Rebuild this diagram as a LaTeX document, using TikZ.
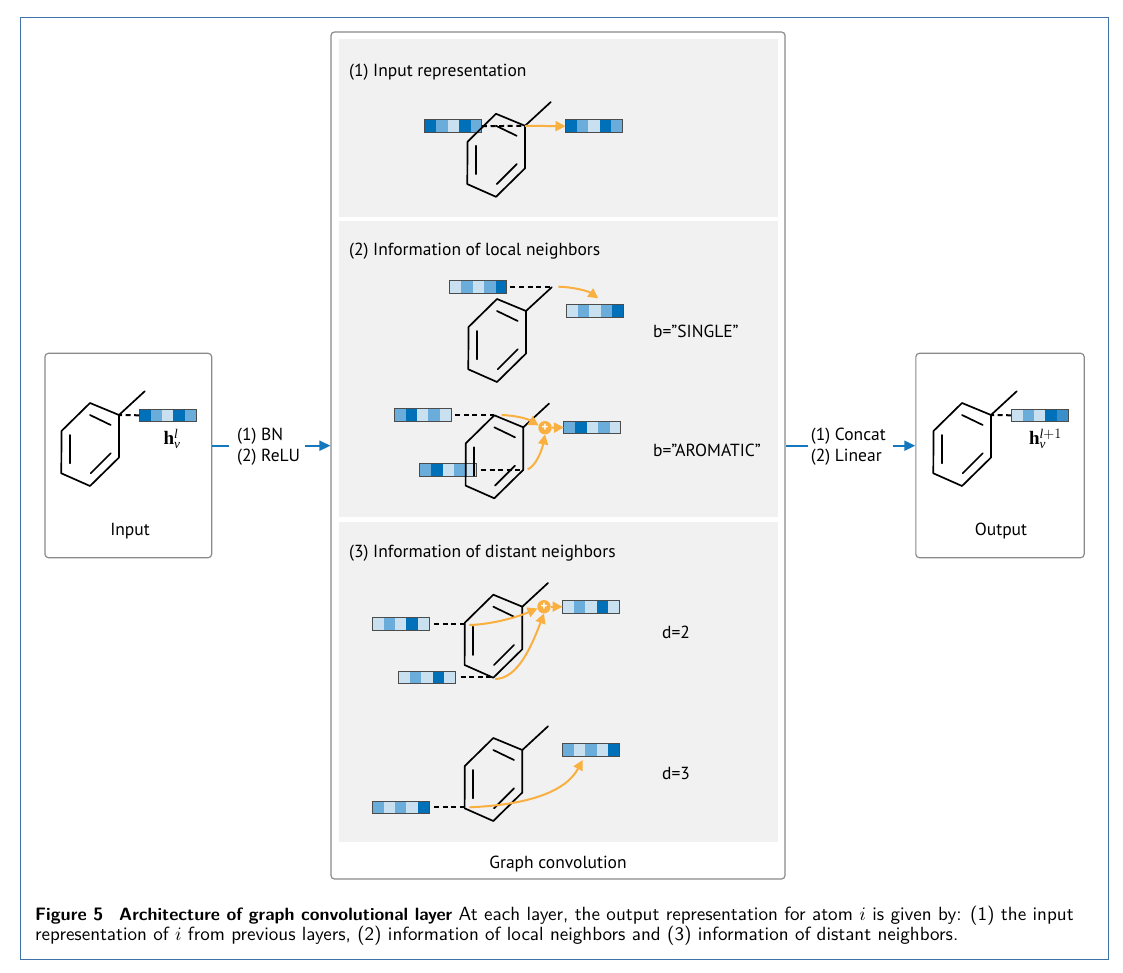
\documentclass[tikz,border=0pt]{standalone}
\usepackage{amsmath}
\usepackage{graphicx}
\usepackage{fontspec}
\setmainfont{PT Sans}
\newfontfamily\hfam{Liberation Serif}
\usetikzlibrary{arrows.meta,calc}
\definecolor{vd}{HTML}{0070B8}
\definecolor{vm}{HTML}{6AADDA}
\definecolor{vl}{HTML}{C8E0F0}
\definecolor{vx}{HTML}{3A8FCB}
\definecolor{panelgray}{HTML}{F1F1F1}
\definecolor{framegray}{HTML}{8A8A8A}
\definecolor{frameblue}{HTML}{3F73A8}
\definecolor{flowblue}{HTML}{1478BE}
\definecolor{flow}{HTML}{F9B040}
\tikzset{
  vecbar/.style={draw=black!70,line width=0.9pt,minimum width=57pt,minimum height=12.6pt,inner sep=0pt,outer sep=0pt},
  dashline/.style={line width=2pt,dash pattern=on 5pt off 3.6pt},
  bondline/.style={line width=1.7pt,black,line join=round,line cap=round},
  flowline/.style={line width=2pt,flow,-{Triangle[length=10pt,width=10pt]}},
  mainflow/.style={line width=2pt,flowblue},
  boxframe/.style={draw=framegray,line width=1.2pt,rounded corners=3.5pt,fill=white,inner sep=0pt},
  panel/.style={fill=panelgray,draw=none,inner sep=0pt},
  lab/.style={font=\fontsize{17.5pt}{21pt}\selectfont,inner sep=0pt,anchor=west,text=black},
  labc/.style={font=\fontsize{17.5pt}{21pt}\selectfont,inner sep=0pt,text=black},
  sumnode/.style={circle,fill=flow,minimum size=13.4pt,inner sep=0pt,outer sep=0pt,text=white,font=\bfseries\fontsize{13pt}{13pt}\selectfont},
  capline/.style={font=\sffamily\fontsize{10pt}{12pt}\selectfont,inner sep=0pt,anchor=west,text=black},
  hlabel/.style={inner sep=0pt,font=\hfam\fontsize{19pt}{22pt}\selectfont},
}
\newcommand{\vbar}[7]{%
  \node[vecbar,path picture={
    \coordinate (pp) at (path picture bounding box.north west);
    \fill[#3] (pp) rectangle ([xshift=11.6pt,yshift=-13pt]pp);
    \fill[#4] ([xshift=11.4pt]pp) rectangle ([xshift=22.8pt,yshift=-13pt]pp);
    \fill[#5] ([xshift=22.8pt]pp) rectangle ([xshift=34.2pt,yshift=-13pt]pp);
    \fill[#6] ([xshift=34.2pt]pp) rectangle ([xshift=45.6pt,yshift=-13pt]pp);
    \fill[#7] ([xshift=45.6pt]pp) rectangle ([xshift=57pt,yshift=-13pt]pp);
  }] (#1) at (#2) {};}
\newcommand{\molecule}[3]{%
  \begin{scope}[shift={(#2,#3)}]
    \coordinate (#1-i) at (0,0);
    \coordinate (#1-m) at (25.7,-23.7);
    \coordinate (#1-t) at (-29,-12);
    \coordinate (#1-u) at (-57.5,16);
    \coordinate (#1-l) at (-57.7,58.3);
    \coordinate (#1-b) at (-29,71);
    \coordinate (#1-r) at (0,42.5);
    \draw[bondline] (#1-i) -- (#1-t) -- (#1-u) -- (#1-l) -- (#1-b) -- (#1-r) -- cycle;
    \draw[bondline] (#1-i) -- (#1-m);
    \draw[bondline] (-29,0) -- (-8.3,10);
    \draw[bondline] (-49,20) -- (-49,48.3);
    \draw[bondline] (-28.3,58.3) -- (-8.3,38.3);
  \end{scope}}
\begin{document}
\begin{tikzpicture}[x=1pt,y=-1pt]
\useasboundingbox (0,0) rectangle (1123,973);
\fill[white] (0,0) rectangle (1123,973);
\draw[frameblue,line width=1pt] (20.5,17.5) rectangle (1108.5,959);
% boxes
\node[boxframe,minimum width=166.7pt,minimum height=204.4pt] (inbox) at (128.3,455.5) {};
\node[boxframe,minimum width=454pt,minimum height=847pt] (gcbox) at (558,455.5) {};
\node[boxframe,minimum width=168.3pt,minimum height=204.4pt] (outbox) at (1000,455.5) {};
\node[panel,minimum width=439pt,minimum height=178pt] (p1) at (558.5,128) {};
\node[panel,minimum width=439pt,minimum height=296pt] (p2) at (558.5,369) {};
\node[panel,minimum width=439pt,minimum height=320pt] (p3) at (558.5,682) {};
% panel labels
\node[lab] (t1) at (349,72) {(1) Input representation};
\node[lab] (t2) at (349,251) {(2) Information of local neighbors};
\node[lab] (t3) at (349,553) {(3) Information of distant neighbors};
\node[lab] (bs) at (653,331) {b=”SINGLE”};
\node[lab] (ba) at (653,450) {b=”AROMATIC”};
\node[lab] (d2) at (662,632) {d=2};
\node[lab] (d3) at (662,773) {d=3};
\node[labc] (gc) at (558,864) {Graph convolution};
\node[labc] (it) at (130,531) {Input};
\node[labc] (ot) at (1001,531) {Output};
% main flow
\coordinate (fy) at (0,445.7);
\node[lab,align=left,inner xsep=8pt] (l1) at (229,447) {(1) BN\\(2) ReLU};
\node[lab,align=left,inner xsep=3pt] (l2) at (807.7,447) {(1) Concat\\(2) Linear};
\draw[mainflow] (inbox.east |- fy) -- (l1.west |- fy);
\coordinate (a1) at (305,445.7);
\draw[mainflow,-{Triangle[length=11pt,width=10pt]}] (a1) -- (gcbox.west |- fy);
\draw[mainflow] (gcbox.east |- fy) -- (l2.west |- fy);
\coordinate (a2) at (893.3,445.7);
\draw[mainflow,-{Triangle[length=11pt,width=10pt]}] (a2) -- (outbox.west |- fy);
% vectors
\vbar{vin}{167.7,415.3}{vd}{vm}{vl}{vd}{vm}
\vbar{vout}{1039.7,415.3}{vl}{vm}{vl}{vd}{vx}
\vbar{sa}{453.4,126.2}{vd}{vm}{vl}{vd}{vm}
\vbar{sb}{594,126.2}{vd}{vm}{vl}{vd}{vm}
\vbar{la}{478.4,287}{vl}{vm}{vl}{vm}{vd}
\vbar{lb}{595,311}{vl}{vm}{vl}{vm}{vd}
\vbar{ma}{422.7,415}{vm}{vd}{vl}{vm}{vl}
\vbar{mb}{448.4,469.7}{vm}{vd}{vl}{vm}{vl}
\vbar{mc}{592.4,427.4}{vm}{vd}{vl}{vm}{vl}
\vbar{da}{400.7,623.7}{vl}{vm}{vl}{vd}{vl}
\vbar{db}{427,677.4}{vl}{vm}{vl}{vd}{vl}
\vbar{dc}{591,606.7}{vl}{vm}{vl}{vd}{vl}
\vbar{ea}{400.7,807.4}{vm}{vl}{vm}{vl}{vd}
\vbar{eb}{591,750}{vm}{vl}{vm}{vl}{vd}
% molecules
\molecule{A}{119}{415}
\molecule{Z}{991}{415}
\molecule{S}{525}{125.8}
\molecule{L}{526}{311}
\molecule{M}{523.3}{427.3}
\molecule{D}{522.3}{606.7}
\molecule{E}{522.3}{750}
% dashes
\draw[dashline] (vin.west) -- (A-i);
\draw[dashline] (vout.west) -- (Z-i);
\draw[dashline] (sa.east) -- (S-i);
\draw[dashline] ([xshift=3.5pt]la.east) -- (L-m |- la.east);
\draw[dashline] ([xshift=4pt]ma.east) -- (M-t |- ma.east);
\draw[dashline] ([xshift=4pt]mb.east) -- (M-r |- mb.east);
\draw[dashline] ([xshift=5pt]da.east) -- (D-u |- da.east);
\draw[dashline] ([xshift=5pt]db.east) -- (D-b |- db.east);
\draw[dashline] ([xshift=5pt]ea.east) -- (E-u |- ea.east);
% sums
\node[sumnode] (sm) at (545,427.7) {+};
\node[sumnode] (sd) at (544,606.7) {+};
% flow arrows
\draw[flowline] (S-i) -- (sb.west);
\coordinate (f1) at (558.3,286.7);
\coordinate (f2) at (598.3,298.3);
\draw[flowline] (f1) .. controls (573,287) and (588,291) .. (f2);
\coordinate (f3) at (501.7,415);
\draw[flowline] (f3) .. controls (515,415.5) and (527,418.5) .. (sm.160);
\coordinate (f4) at (527.7,469.3);
\draw[flowline] (f4) .. controls (536,466) and (542,450) .. (sm.south);
\draw[flowline] (sm.east) -- (mc.west);
\coordinate (f5) at (469.3,625);
\draw[flowline] (f5) .. controls (490,624.5) and (515,618) .. (sd.195);
\coordinate (f6) at (495,679);
\draw[flowline] (f6) .. controls (518,679) and (532,645) .. (sd.south);
\draw[flowline] (sd.east) -- (dc.west);
\coordinate (f7) at (469.3,807.3);
\coordinate (f8) at (582.7,760);
\draw[flowline] (f7) .. controls (525,805) and (565,793) .. (f8);
% math labels
\node[hlabel] (hl) at (172,439) {\textbf{h}$_{\text{\itshape v}}^{\text{\itshape l}}$};
\node[hlabel] (hr) at (1045.5,439) {\textbf{h}$_{\text{\itshape v}}^{\text{\itshape l}+1}$};
% caption
\node[capline] (c1) at (35,916) {\resizebox{68pt}{!}{\textbf{Figure 5}}\hspace{16pt}\resizebox{333pt}{!}{\textbf{Architecture of graph convolutional layer}}\hspace{6.5pt}\resizebox{615pt}{!}{At each layer, the output representation for atom $i$ is given by: (1) the input}};
\node[capline] (c2) at (35,936) {\resizebox{923pt}{!}{representation of $i$ from previous layers, (2) information of local neighbors and (3) information of distant neighbors.}};
\end{tikzpicture}
\end{document}
